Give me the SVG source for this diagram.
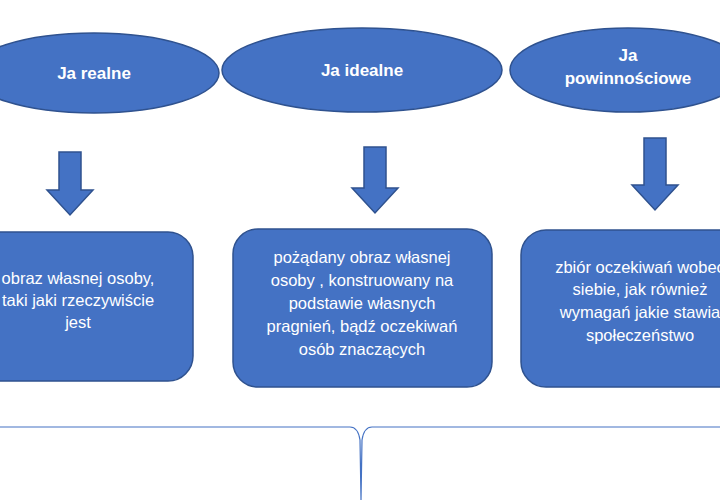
<svg xmlns="http://www.w3.org/2000/svg" width="720" height="500" viewBox="0 0 720 500">
<style>
.s{fill:#4472C4;stroke:#2F528F;stroke-width:1.5}
.t{fill:#fff;font-family:"Liberation Sans",Arial,sans-serif;text-anchor:middle}
.b{font-weight:bold;font-size:17px}
.n{font-size:16.5px}
</style>
<rect width="720" height="500" fill="#fff"/>
<g id="e1"><ellipse class="s" cx="94" cy="73" rx="125" ry="40"/><text class="t b" x="94" y="79">Ja realne</text></g>
<g id="e2"><ellipse class="s" cx="362" cy="70" rx="140" ry="42"/><text class="t b" x="362" y="76">Ja idealne</text></g>
<g id="e3"><ellipse class="s" cx="628" cy="70" rx="118" ry="42"/><text class="t b" x="628" y="61">Ja</text><text class="t b" x="628" y="84">powinnościowe</text></g>
<g id="connectors">
<polygon class="s" points="59,152 81,152 81,190 93,190 70,215 47,190 59,190"/>
<polygon class="s" points="364,147 386,147 386,188 398,188 375,213 352,188 364,188"/>
<polygon class="s" points="644,138 666,138 666,185 678,185 655,210 632,185 644,185"/>
<path d="M0,427 H350 Q358,427 360,440 L361,500 L362,440 Q364,427 372,427 H720" fill="none" stroke="#4472C4" stroke-width="1.2"/>
</g>
<g id="b1"><rect class="s" x="-25" y="232" width="218" height="149" rx="25"/><text class="t n"><tspan x="78" y="284">obraz własnej osoby,</tspan><tspan x="78" y="306">taki jaki rzeczywiście</tspan><tspan x="78" y="328">jest</tspan></text></g>
<g id="b2"><rect class="s" x="233" y="229" width="259" height="158" rx="25"/><text class="t n"><tspan x="362" y="263">pożądany obraz własnej</tspan><tspan x="362" y="286">osoby , konstruowany na</tspan><tspan x="362" y="309">podstawie własnych</tspan><tspan x="362" y="332">pragnień, bądź oczekiwań</tspan><tspan x="362" y="355">osób znaczących</tspan></text></g>
<g id="b3"><rect class="s" x="521" y="230" width="230" height="157" rx="25"/><text class="t n"><tspan x="640" y="273">zbiór oczekiwań wobec</tspan><tspan x="640" y="295">siebie, jak również</tspan><tspan x="640" y="318">wymagań jakie stawia</tspan><tspan x="640" y="341">społeczeństwo</tspan></text></g>
</svg>
